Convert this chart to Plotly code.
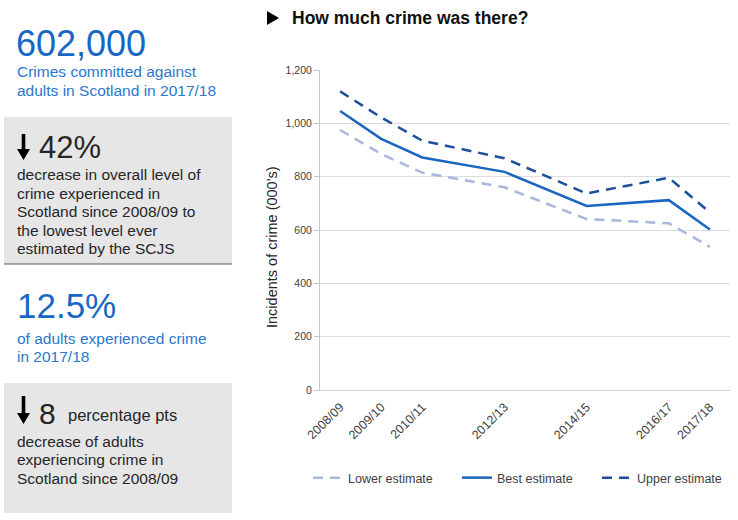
import plotly.graph_objects as go

# ---- data ----
years = [2008, 2009, 2010, 2012, 2014, 2016, 2017]
year_labels = ["2008/09", "2009/10", "2010/11", "2012/13", "2014/15", "2016/17", "2017/18"]
lower_estimate = [975, 885, 815, 760, 641, 625, 537]
best_estimate = [1046, 942, 872, 818, 690, 712, 602]
upper_estimate = [1120, 1022, 935, 869, 737, 796, 666]

W, H = 738, 520
def px(x):
    return x / W
def py(y):
    return 1 - y / H

FONT = "Arial, Liberation Sans, sans-serif"
BLUE_BIG = "#1767c4"
BLUE_TXT = "#2b78cc"
DARK = "#262626"
LEG_FONT = dict(family=FONT, size=12.5, color="#404040")

fig = go.Figure()
fig.add_trace(go.Scatter(x=years, y=lower_estimate, mode="lines", name="Lower estimate",
                         legend="legend",
                         line=dict(color="#a9b6de", width=2.5, dash="10px,7px")))
fig.add_trace(go.Scatter(x=years, y=best_estimate, mode="lines", name="Best estimate",
                         legend="legend2",
                         line=dict(color="#1a66c2", width=2.5)))
fig.add_trace(go.Scatter(x=years, y=upper_estimate, mode="lines", name="Upper estimate",
                         legend="legend3",
                         line=dict(color="#1c4f9c", width=2.5, dash="10px,7px")))

shapes = [
    dict(type="rect", xref="paper", yref="paper", x0=px(4), x1=px(232), y0=py(264), y1=py(117),
         fillcolor="#e6e6e6", line=dict(width=0), layer="below"),
    dict(type="line", xref="paper", yref="paper", x0=px(4), x1=px(232), y0=py(264), y1=py(264),
         line=dict(color="#595959", width=1.2)),
    dict(type="rect", xref="paper", yref="paper", x0=px(4), x1=px(232), y0=py(513), y1=py(383),
         fillcolor="#e6e6e6", line=dict(width=0), layer="below"),
    dict(type="path", xref="paper", yref="paper",
         path=f"M {px(267)} {py(11)} L {px(279)} {py(18)} L {px(267)} {py(25)} Z",
         fillcolor="black", line=dict(width=0)),
]

def down_arrow(top, bottom, cx=23.5):
    hw = 6.5
    sw = 1.8
    hy = bottom - 11
    pts = [(cx - sw, top), (cx + sw, top), (cx + sw, hy), (cx + hw, hy), (cx, bottom),
           (cx - hw, hy), (cx - sw, hy)]
    p = "M " + " L ".join(f"{px(a)} {py(b)}" for a, b in pts) + " Z"
    return dict(type="path", xref="paper", yref="paper", path=p, fillcolor="black", line=dict(width=0))

shapes.append(down_arrow(134, 160))
shapes.append(down_arrow(396, 424))

def ann(text, x, y, size, color, xanchor="left", yanchor="middle", **kw):
    return dict(text=text, x=px(x), y=py(y), xref="paper", yref="paper", showarrow=False,
                xanchor=xanchor, yanchor=yanchor, align="left",
                font=dict(family=FONT, size=size, color=color), **kw)

TS = 15.5
annotations = [
    ann("602,000", 14, 43, 36, BLUE_BIG),
    ann("Crimes committed against", 15, 72, TS, BLUE_TXT),
    ann("adults in Scotland in 2017/18", 15, 90.5, TS, BLUE_TXT),
    ann("42%", 37, 147, 31, DARK),
    ann("decrease in overall level of", 15, 174.5, TS, DARK),
    ann("crime experienced in", 15, 193, TS, DARK),
    ann("Scotland since 2008/09 to", 15, 211.5, TS, DARK),
    ann("the lowest level ever", 15, 230, TS, DARK),
    ann("estimated by the SCJS", 15, 248.5, TS, DARK),
    ann("12.5%", 15, 305, 35, BLUE_BIG),
    ann("of adults experienced crime", 15, 338, TS, BLUE_TXT),
    ann("in 2017/18", 15, 356.5, TS, BLUE_TXT),
    ann("8", 37, 413, 30, DARK),
    ann("percentage pts", 66, 415, 16.5, DARK),
    ann("decrease of adults", 15, 441.5, TS, DARK),
    ann("experiencing crime in", 15, 459.5, TS, DARK),
    ann("Scotland since 2008/09", 15, 478, TS, DARK),
    ann("<b>How much crime was there?</b>", 290, 18, 17.5, "#111111"),
    ann("Incidents of crime (000's)", 272, 247, 14.5, DARK, xanchor="center", textangle=-90),
]

def leg(text_x):
    return dict(orientation="h", x=px(text_x - 40), y=py(478), xanchor="left", yanchor="middle",
                xref="paper", yref="paper", font=LEG_FONT, bgcolor="rgba(0,0,0,0)")

fig.update_layout(
    width=W, height=H,
    margin=dict(l=0, r=0, t=0, b=0),
    paper_bgcolor="white", plot_bgcolor="white",
    font=dict(family=FONT, size=11, color="#404040"),
    shapes=shapes,
    annotations=annotations,
    showlegend=True,
    legend=leg(348),
    legend2=leg(497),
    legend3=leg(637),
    xaxis=dict(domain=[px(320), px(730)], range=[2007.51, 2017.49],
               tickvals=years, ticktext=year_labels, tickangle=-45,
               showgrid=False, zeroline=False, showline=True, linecolor="#d0d0d0", linewidth=1,
               ticks="", ticklabelstandoff=4,
               tickfont=dict(size=12.5, color="#404040"), automargin=False),
    yaxis=dict(domain=[py(390), py(70)], range=[0, 1200], dtick=200, tickformat=",",
               showgrid=True, gridcolor="#dcdcdc", gridwidth=1, zeroline=False,
               showline=True, linecolor="#c8c8c8", linewidth=1,
               ticks="outside", ticklen=5, tickcolor="#c8c8c8",
               tickfont=dict(size=10.5, color="#404040"), automargin=False),
)

fig.write_html("out.html", config={"displayModeBar": False},
               post_script="document.body.style.margin='0';document.body.style.padding='0';")
